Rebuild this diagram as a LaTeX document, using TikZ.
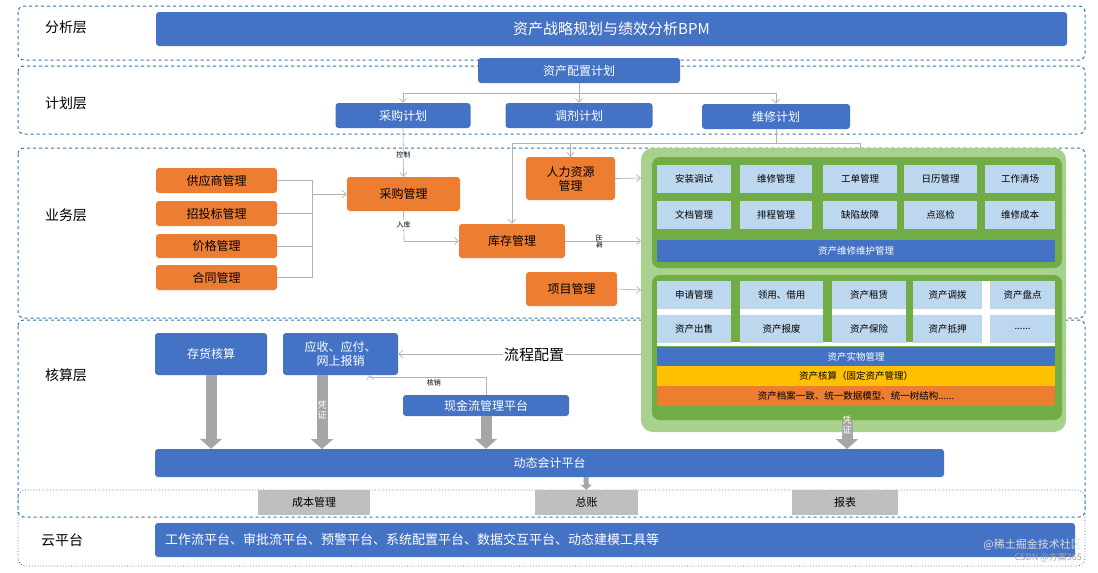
\documentclass[tikz,border=0pt]{standalone}
\usepackage{fontspec}
\setmainfont{Noto Sans CJK SC}
\usetikzlibrary{arrows.meta}
\definecolor{bblue}{HTML}{4472C4}
\definecolor{dash}{HTML}{2E75B6}
\definecolor{org}{HTML}{ED7D31}
\definecolor{lgreen}{HTML}{A9D18E}
\definecolor{dgreen}{HTML}{70AD47}
\definecolor{lblue}{HTML}{BDD7EE}
\definecolor{ylw}{HTML}{FFC000}
\definecolor{gry}{HTML}{BFBFBF}
\definecolor{arr}{HTML}{A6A6A6}
\begin{document}
\begin{tikzpicture}[x=1pt,y=-1pt,
  bx/.style={inner sep=0pt,rounded corners=3pt,text=white,font=\fontsize{12}{13}\selectfont},
  bl/.style={bx,fill=bblue},
  og/.style={bx,fill=org,text=black},
  cell/.style={inner sep=0pt,fill=lblue,font=\fontsize{9.5}{10}\selectfont},
  bar/.style={inner sep=0pt,font=\fontsize{9.5}{10}\selectfont},
  layer/.style={draw=dash,dashed,line width=1pt,rounded corners=6pt},
  lab/.style={font=\fontsize{14}{15}\selectfont},
  con/.style={draw=gray!60,line width=0.7pt,-{Straight Barb[length=4pt,width=7pt]}},
  ln/.style={draw=gray!60,line width=0.7pt},
  small/.style={font=\fontsize{7}{8}\selectfont,inner sep=1pt},
  fat/.style={draw=arr,line width=11pt,-{Triangle[width=22pt,length=10pt]}},
  gbox/.style={inner sep=0pt,fill=gry,font=\fontsize{11}{12}\selectfont}]
\useasboundingbox (0,0) rectangle (1098,573);
\fill[white] (0,0) rectangle (1098,573);
% layers
\draw[layer] (18,6) rectangle (1085,60);
\draw[layer] (18,66) rectangle (1085,134);
\draw[layer] (18,148) rectangle (1085,318);
\draw[layer] (18,320) rectangle (1085,517);
\draw[draw=dash,dotted,line width=0.8pt,rounded corners=8pt] (18,490) rectangle (1085,566);
\node[lab] (l1) at (66,27) {分析层};
\node[lab] (l2) at (66,103) {计划层};
\node[lab] (l3) at (66,215) {业务层};
\node[lab] (l4) at (66,375) {核算层};
\node[lab] (l5) at (62,540) {云平台};
% analysis
\node[bl,minimum width=911pt,minimum height=34pt,font=\fontsize{15}{16}\selectfont] (bpm) at (611.5,29) {资产战略规划与绩效分析BPM};
% plan
\node[bl,minimum width=202pt,minimum height=25pt] (pz) at (579,70.5) {资产配置计划};
\node[bl,minimum width=135pt,minimum height=25pt] (cg) at (403,115.5) {采购计划};
\node[bl,minimum width=147pt,minimum height=25pt] (tj) at (579,115.5) {调剂计划};
\node[bl,minimum width=148pt,minimum height=25pt] (wx) at (776,116.5) {维修计划};
\coordinate (j0) at (579,93);
\draw[ln] (pz.south) -- (j0);
\draw[con] (j0) -| (cg.north);
\draw[con] (j0) -- (tj.north);
\draw[con] (j0) -| (wx.north);
% business
\node[og,minimum width=121pt,minimum height=25pt] (s1) at (216.5,180.5) {供应商管理};
\node[og,minimum width=121pt,minimum height=25pt] (s2) at (216.5,213.5) {招投标管理};
\node[og,minimum width=121pt,minimum height=24pt] (s3) at (216.5,246) {价格管理};
\node[og,minimum width=121pt,minimum height=25pt] (s4) at (216.5,277.5) {合同管理};
\node[og,minimum width=113pt,minimum height=34pt] (cgm) at (403.5,194) {采购管理};
\node[og,minimum width=89pt,minimum height=43pt,align=center,font=\fontsize{12}{14}\selectfont] (rl) at (570.5,178.5) {人力资源\\管理};
\node[og,minimum width=106pt,minimum height=34pt] (kc) at (512,241) {库存管理};
\node[og,minimum width=91pt,minimum height=34pt] (xm) at (571.5,289) {项目管理};
\coordinate (mx) at (312,194);
\foreach \s in {s1,s2,s3,s4}{\draw[ln] (\s.east) -- (mx |- \s.east) -- (mx);}
\draw[con] (mx) -- (cgm.west);
\draw[con] (cg.south) -- node[small,pos=0.55,fill=white]{控制} (cgm.north);
\coordinate (rk) at (404,241);
\draw[ln] (cgm.south) -- node[small,pos=0.45,fill=white]{入库} (rk);
\draw[con] (rk) -- (kc.west);
\coordinate (h1) at (512,143);
\coordinate (h2) at (860,143);
\draw[ln] (wx.south) -- (wx.south |- h1);
\draw[ln] (h1) -- (h2);
\draw[con] (h1) -- (kc.north);
\draw[con] (rl.north |- h1) -- (rl.north);
\draw[ln] (h2) -- (860,165);
% green
\fill[lgreen,rounded corners=12pt] (641,148) rectangle (1066,432);
\fill[dgreen,rounded corners=8pt] (652,157) rectangle (1062,268);
\fill[dgreen,rounded corners=8pt] (652,275) rectangle (1062,420);
\coordinate (gl1) at (641,178);\coordinate (gl2) at (641,241);\coordinate (gl3) at (641,290);\coordinate (gl4) at (641,354);
\draw[con] (rl.east) -- (gl1);
\draw[con] (kc.east) -- node[small,pos=0.45,rotate=-90]{出库} (gl2);
\draw[con] (xm.east) -- (gl3);
\foreach \t [count=\i] in {安装调试,维修管理,工单管理,日历管理,工作清场}{}
\node[cell,minimum width=74pt,minimum height=28pt] (a1) at (694,179) {安装调试};
\node[cell,minimum width=72pt,minimum height=28pt] (a2) at (776,179) {维修管理};
\node[cell,minimum width=74pt,minimum height=28pt] (a3) at (860,179) {工单管理};
\node[cell,minimum width=73pt,minimum height=28pt] (a4) at (940.5,179) {日历管理};
\node[cell,minimum width=70pt,minimum height=28pt] (a5) at (1020,179) {工作清场};
\node[cell,minimum width=74pt,minimum height=28pt] (b1) at (694,215) {文档管理};
\node[cell,minimum width=72pt,minimum height=28pt] (b2) at (776,215) {排程管理};
\node[cell,minimum width=74pt,minimum height=28pt] (b3) at (860,215) {缺陷故障};
\node[cell,minimum width=73pt,minimum height=28pt] (b4) at (940.5,215) {点巡检};
\node[cell,minimum width=70pt,minimum height=28pt] (b5) at (1020,215) {维修成本};
\node[bar,fill=bblue,text=white,minimum width=398pt,minimum height=22pt] (wh) at (856,251) {资产维修维护管理};
\fill[white] (657,281) rectangle (1055,346);
\fill[dgreen] (731,281) rectangle (740,342);
\fill[dgreen] (823,281) rectangle (832,342);
\fill[dgreen] (906,281) rectangle (913,342);
\node[cell,minimum width=74pt,minimum height=28pt] (c1) at (694,295) {申请管理};
\node[cell,minimum width=83pt,minimum height=28pt] (c2) at (781.5,295) {领用、借用};
\node[cell,minimum width=74pt,minimum height=28pt] (c3) at (869,295) {资产租赁};
\node[cell,minimum width=69pt,minimum height=28pt] (c4) at (947.5,295) {资产调拨};
\node[cell,minimum width=65pt,minimum height=28pt] (c5) at (1022.5,295) {资产盘点};
\node[cell,minimum width=74pt,minimum height=28pt] (d1) at (694,328.5) {资产出售};
\node[cell,minimum width=83pt,minimum height=28pt] (d2) at (781.5,328.5) {资产报废};
\node[cell,minimum width=74pt,minimum height=28pt] (d3) at (869,328.5) {资产保险};
\node[cell,minimum width=69pt,minimum height=28pt] (d4) at (947.5,328.5) {资产抵押};
\node[cell,minimum width=65pt,minimum height=28pt] (d5) at (1022.5,328.5) {......};
\node[bar,fill=bblue,text=white,minimum width=398pt,minimum height=19pt] (sw) at (856,356.5) {资产实物管理};
\node[bar,fill=ylw,minimum width=398pt,minimum height=20pt] (hs) at (856,376) {资产核算（固定资产管理）};
\node[bar,fill=org,minimum width=398pt,minimum height=20pt] (da) at (856,396) {资产档案一致、统一数据模型、统一树结构......};
% accounting
\node[bl,minimum width=112pt,minimum height=42pt] (ch) at (211,354) {存货核算};
\node[bl,minimum width=115pt,minimum height=42pt,align=center,font=\fontsize{12}{14}\selectfont] (ys) at (340.5,354) {应收、应付、\\网上报销};
\node[bl,minimum width=166pt,minimum height=21pt] (xj) at (486,405.5) {现金流管理平台};
\draw[con] (gl4) -- (ys.east);
\node[font=\fontsize{15}{16}\selectfont,fill=white,inner sep=1pt] (lc) at (534,355) {流程配置};
\coordinate (hx) at (486,377);
\draw[ln] (xj.north) -- (hx);
\draw[con] (hx) -- node[small,pos=0.45,below=1pt]{核销} (370,377) -- (370,375);
\node[bl,minimum width=789pt,minimum height=28pt] (dt) at (549.5,463) {动态会计平台};
\draw[fat] (ch.south) -- (ch.south |- dt.north);
\draw[fat] (322,375) -- (322,449);
\draw[fat] (xj.south) -- (xj.south |- dt.north);
\draw[fat] (847,420) -- (847,449);
\node[small,text=white,align=center,font=\fontsize{9}{10}\selectfont] (v1) at (187,410) {凭\\证};
\node[small,text=white,align=center,font=\fontsize{9}{10}\selectfont] (v2) at (322,410) {凭\\证};
\node[small,text=white,align=center,font=\fontsize{9}{10}\selectfont] (v3) at (847,425) {凭\\证};
\node[gbox,minimum width=112pt,minimum height=25pt] (cb) at (314,502.5) {成本管理};
\node[gbox,minimum width=103pt,minimum height=25pt] (zz) at (586.5,502.5) {总账};
\node[gbox,minimum width=106pt,minimum height=25pt] (bb) at (845,502.5) {报表};
\draw[draw=arr,line width=5pt,-{Triangle[width=11pt,length=5pt]}] (586,477) -- (zz.north);
% cloud
\node[bl,minimum width=920pt,minimum height=34pt,text width=900pt,align=left,font=\fontsize{13}{14}\selectfont] (yp) at (615,540) {工作流平台、审批流平台、预警平台、系统配置平台、数据交互平台、动态建模工具等};
\node[text=white!75!gray,font=\fontsize{11}{12}\selectfont,anchor=east,inner sep=0pt] (wm1) at (1082,545) {@稀土掘金技术社区};
\node[text=gray!70,font=\fontsize{9}{10}\selectfont,anchor=east,inner sep=0pt] (wm2) at (1082,557) {CSDN @方案365};
\end{tikzpicture}
\end{document}
